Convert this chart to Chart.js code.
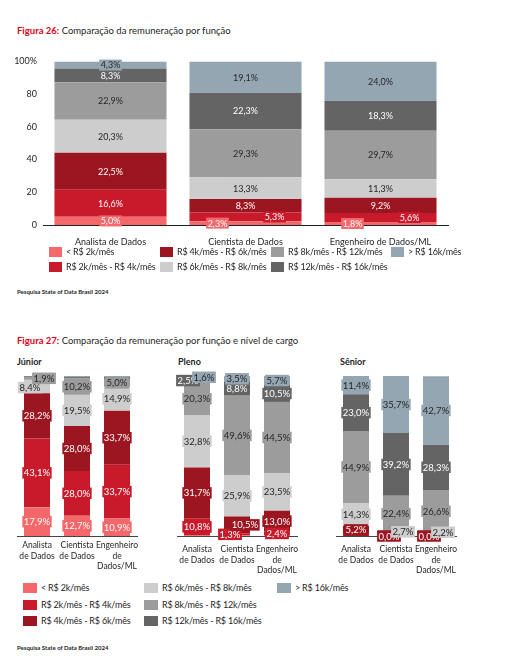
<!DOCTYPE html>
<html>
<head>
<meta charset="utf-8">
<script src="https://cdn.jsdelivr.net/npm/chart.js@4"></script>
<style>
  body { margin: 0; background: #fff; font-family: Lato, "Open Sans", sans-serif; color: #262626; }
  #page { position: relative; width: 513px; height: 669px; }
  .abs { position: absolute; white-space: nowrap; }
  .title { font-size: 9.5px; line-height: 12px; }
  .title b { color: #E2001A; }
  .src { font-size: 6px; font-weight: bold; line-height: 8px; }
  .panel { font-size: 9px; font-weight: bold; line-height: 12px; }
  .leg { position: absolute; font-size: 9px; letter-spacing: -0.2px; line-height: 12px; white-space: nowrap; }
  .leg i { position: absolute; left: 0; top: 1px; height: 10px; }
</style>
</head>
<body>
<div id="page">
  <div class="abs title" style="left:17px;top:25px;"><b>Figura 26:</b> Comparação da remuneração por função</div>
  <div class="abs" style="left:0;top:50px;"><canvas id="c26" width="460" height="200"></canvas></div>
  <div id="leg26"></div>
  <div class="abs src" style="left:17px;top:288px;">Pesquisa State of Data Brasil 2024</div>

  <div class="abs title" style="left:17px;top:335px;"><b>Figura 27:</b> Comparação da remuneração por função e nível de cargo</div>
  <div class="abs panel" style="left:17px;top:356px;">Júnior</div>
  <div class="abs panel" style="left:178px;top:356px;">Pleno</div>
  <div class="abs panel" style="left:340px;top:356px;">Sênior</div>
  <div class="abs" style="left:7px;top:366px;"><canvas id="cJunior" width="150" height="215"></canvas></div>
  <div class="abs" style="left:167px;top:366px;"><canvas id="cPleno" width="150" height="215"></canvas></div>
  <div class="abs" style="left:326px;top:366px;"><canvas id="cSenior" width="150" height="215"></canvas></div>
  <div id="leg27"></div>
  <div class="abs src" style="left:17px;top:644px;">Pesquisa State of Data Brasil 2024</div>
</div>

<script>
// faixas salariais (ordem de empilhamento, de baixo para cima)
const bands = ['< R$ 2k/mês', 'R$ 2k/mês - R$ 4k/mês', 'R$ 4k/mês - R$ 6k/mês', 'R$ 6k/mês - R$ 8k/mês',
               'R$ 8k/mês - R$ 12k/mês', 'R$ 12k/mês - R$ 16k/mês', '> R$ 16k/mês'];
const bandColors = ['#F4686B', '#C91A2C', '#9B1620', '#CDCDCD', '#9C9C9C', '#646464', '#95A6B3'];
const whiteText = [true, true, true, false, false, true, false];

// Figura 26
const roles26 = ['Analista de Dados', 'Cientista de Dados', 'Engenheiro de Dados/ML'];
const analista26 = [5.0, 16.6, 22.5, 20.3, 22.9, 8.3, 4.3];
const cientista26 = [2.3, 5.3, 8.3, 13.3, 29.3, 22.3, 19.1];
const engenheiro26 = [1.8, 5.6, 9.2, 11.3, 29.7, 18.3, 24.0];
const yTicks26 = [0, 20, 40, 60, 80, 100];

// Figura 27
const roles27 = [['Analista', 'de Dados'], ['Cientista', 'de Dados'], ['Engenheiro', 'de', 'Dados/ML']];
const juniorAnalista = [17.9, 43.1, 28.2, 8.4, 1.9, 0.5, null];
const juniorCientista = [12.7, 28.0, 28.0, 19.5, 10.2, 0.9, 0.7];
const juniorEngenheiro = [10.9, 33.7, 33.7, 14.9, 5.0, 1.1, 0.7];
const plenoAnalista = [0.3, 10.8, 31.7, 32.8, 20.3, 2.5, 1.6];
const plenoCientista = [0.4, 1.3, 10.5, 25.9, 49.6, 8.8, 3.5];
const plenoEngenheiro = [0.4, 2.4, 13.0, 23.5, 44.5, 10.5, 5.7];
const seniorAnalista = [null, 1.2, 5.2, 14.3, 44.9, 23.0, 11.4];
const seniorCientista = [null, null, 0.0, 2.7, 22.4, 39.2, 35.7];
const seniorEngenheiro = [null, null, 0.0, 2.2, 26.6, 28.3, 42.7];

Chart.defaults.font.family = 'Lato, "Open Sans", sans-serif';
Chart.defaults.color = '#262626';

// rotulos de porcentagem dentro dos segmentos
Chart.register({
  id: 'segLabels',
  afterDatasetsDraw(chart, args, opts) {
    const ctx = chart.ctx;
    const nudge = opts.nudge || {};
    ctx.save();
    ctx.font = opts.size + 'px Lato, "Open Sans", sans-serif';
    ctx.textAlign = 'center';
    ctx.textBaseline = 'middle';
    chart.data.datasets.forEach((ds, i) => {
      const meta = chart.getDatasetMeta(i);
      meta.data.forEach((el, j) => {
        const v = ds.data[j];
        if (v === null || v === undefined) return;
        if (!(v === 0 || v >= 1.25)) return;
        const d = nudge[i + ',' + j] || [0, 0];
        const x = el.x + d[0];
        const y = (el.y + el.base) / 2 + d[1];
        const txt = v.toFixed(1).replace('.', ',') + '%';
        const w = ctx.measureText(txt).width + 3;
        const h = opts.size + 2;
        ctx.fillStyle = ds.backgroundColor;
        ctx.fillRect(x - w / 2, y - h / 2, w, h);
        ctx.fillStyle = whiteText[i] ? '#ffffff' : '#262626';
        ctx.fillText(txt, x, y + 0.5);
      });
    });
    ctx.restore();
  }
});

function toDatasets(rows, barPct) {
  return bands.map((b, i) => ({
    label: b,
    data: rows.map(r => r[i]),
    backgroundColor: bandColors[i],
    borderWidth: 0,
    barPercentage: barPct,
    categoryPercentage: 1
  }));
}

function createFig26() {
  return new Chart('c26', {
    type: 'bar',
    data: { labels: roles26, datasets: toDatasets([analista26, cientista26, engenheiro26], 0.83) },
    options: {
      responsive: false,
      animation: false,
      layout: { padding: { top: 9, right: 12, left: 0, bottom: 0 } },
      plugins: {
        legend: { display: false },
        tooltip: { enabled: false },
        segLabels: { size: 9, nudge: { '0,1': [-28, 0], '1,1': [29, 0], '0,2': [-28, 0], '1,2': [29, 0] } }
      },
      scales: {
        x: {
          stacked: true,
          grid: { display: false, drawTicks: false },
          border: { display: true, color: '#222', width: 1 },
          ticks: { font: { size: 9 }, padding: 12, maxRotation: 0, autoSkip: false },
          afterFit: s => { s.height = 25; }
        },
        y: {
          stacked: true,
          min: 0,
          max: 100,
          grid: { display: false, drawTicks: false },
          border: { display: false },
          afterBuildTicks: s => { s.ticks = yTicks26.map(v => ({ value: v })); },
          ticks: { font: { size: 9 }, padding: 6, callback: v => (v === 100 ? '100%' : v) },
          afterFit: s => { s.width = 43; }
        }
      }
    }
  });
}

function createPanel(id, rows, nudge, tickPad) {
  return new Chart(id, {
    type: 'bar',
    data: { labels: roles27, datasets: toDatasets(rows, 0.65) },
    options: {
      responsive: false,
      animation: false,
      layout: { padding: { top: 10, right: 20, left: 10, bottom: 0 } },
      plugins: {
        legend: { display: false },
        tooltip: { enabled: false },
        segLabels: { size: 9.5, nudge: nudge }
      },
      scales: {
        x: {
          stacked: true,
          grid: { display: false, drawTicks: false },
          border: { display: true, color: '#444', width: 1 },
          ticks: { font: { size: 8.5, lineHeight: 1.25 }, padding: tickPad, maxRotation: 0, autoSkip: false },
          afterFit: s => { s.height = 45; }
        },
        y: { stacked: true, min: 0, max: 100, display: false }
      }
    }
  });
}

function createLegend(id, rowsPerCol, colX, rowY, boxW) {
  const holder = document.getElementById(id);
  bands.forEach((b, k) => {
    const col = Math.floor(k / rowsPerCol), row = k % rowsPerCol;
    const d = document.createElement('div');
    d.className = 'leg';
    d.style.left = colX[col] + 'px';
    d.style.top = (rowY[row] - 6) + 'px';
    d.style.paddingLeft = (boxW + 4) + 'px';
    d.innerHTML = '<i style="width:' + boxW + 'px;background:' + bandColors[k] + '"></i>' + b;
    holder.appendChild(d);
  });
}

createFig26();
createPanel('cJunior', [juniorAnalista, juniorCientista, juniorEngenheiro],
  { '3,0': [-7, 1], '4,0': [7, 0] }, 4);
createPanel('cPleno', [plenoAnalista, plenoCientista, plenoEngenheiro],
  { '5,0': [-9, 0], '6,0': [7, 0], '1,1': [-7, 0], '2,1': [8, 0] }, 8);
createPanel('cSenior', [seniorAnalista, seniorCientista, seniorEngenheiro],
  { '2,1': [-7, 0], '3,1': [7, -2], '2,2': [-7, 0], '3,2': [7, -2] }, 8);
createLegend('leg26', 2, [49, 160, 271, 391], [252, 267], 13);
createLegend('leg27', 3, [23, 144, 277], [588, 605, 621], 14);
</script>
</body>
</html>
